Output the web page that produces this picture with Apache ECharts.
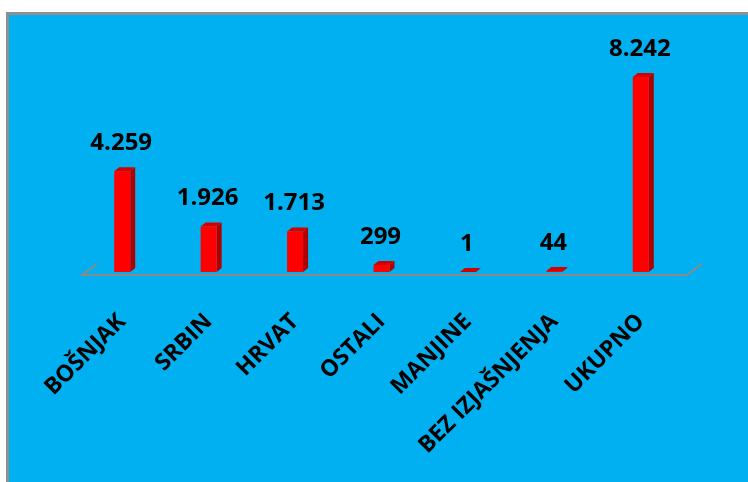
<!DOCTYPE html>
<html>
<head>
<meta charset="utf-8">
<script src="https://cdn.jsdelivr.net/npm/echarts@6/dist/echarts.min.js"></script>
<style>
  html, body { margin: 0; padding: 0; background: #ffffff; overflow: hidden; }
  #frame { position: absolute; left: 6px; top: 12px; width: 760px; height: 500px;
           background: #00B0F0; border-left: 3px solid #8f8f8f; border-top: 3px solid #8f8f8f; }
  #chart { position: absolute; left: 0; top: 0; width: 748px; height: 482px; }
</style>
</head>
<body>
<div id="frame"></div>
<div id="chart"></div>
<script>
const categories = ['BOŠNJAK', 'SRBIN', 'HRVAT', 'OSTALI', 'MANJINE', 'BEZ IZJAŠNJENJA', 'UKUPNO'];
const values = [4259, 1926, 1713, 299, 1, 44, 8242];

const FONT = '"Open Sans", "DejaVu Sans", sans-serif';
function fmt(v) {
  return String(v).replace(/\B(?=(\d{3})+(?!\d))/g, '.');
}

const chart = echarts.init(document.getElementById('chart'), null, { renderer: 'canvas' });

function renderBar(params, api) {
  const idx = api.value(0);
  const val = api.value(1);
  const top = api.coord([idx, val]);
  const base = api.coord([idx, 0]);
  const w = 16, dx = 5, dy = 4;
  const xl = top[0] - w / 2, xr = top[0] + w / 2;
  const yt = top[1], yb = base[1];
  return {
    type: 'group',
    children: [
      { type: 'polygon', shape: { points: [[xr, yt], [xr + dx, yt - dy], [xr + dx, yb - dy], [xr, yb]] },
        style: { fill: '#B00000' } },
      { type: 'polygon', shape: { points: [[xl, yt], [xl + dx, yt - dy], [xr + dx, yt - dy], [xr, yt]] },
        style: { fill: '#D40000' } },
      { type: 'rect', shape: { x: xl, y: yt, width: w, height: Math.max(yb - yt, 0) },
        style: { fill: '#FF0000' } },
      { type: 'text', x: top[0] - 1, y: yt - 28,
        style: { text: fmt(val), fill: '#000000', font: 'bold 24px ' + FONT,
                 textAlign: 'center', textVerticalAlign: 'middle' } }
    ]
  };
}

function renderFloor(params, api) {
  const p0 = api.coord([0, 0]);
  const pn = api.coord([categories.length - 1, 0]);
  const band = api.size([1, 0])[0];
  const y = p0[1] + 3;
  const xL = p0[0] - band / 2 + 3;
  const xR = pn[0] + band / 2 + 3;
  return {
    type: 'polyline',
    shape: { points: [[xL + 15, y - 11], [xL, y], [xR, y], [xR + 15, y - 11]] },
    style: { stroke: '#8a8a8a', lineWidth: 2, fill: null }
  };
}

chart.setOption({
  animation: false,
  backgroundColor: 'transparent',
  grid: { left: 79, right: 64, top: 59, bottom: 210 },
  xAxis: {
    type: 'category',
    data: categories,
    axisLine: { show: false },
    axisTick: { show: false },
    axisLabel: {
      rotate: 45, margin: 46, interval: 0,
      color: '#000000', fontWeight: 'bold', fontSize: 23, fontFamily: FONT
    }
  },
  yAxis: {
    type: 'value', min: 0, max: 9000,
    show: false, splitLine: { show: false }
  },
  series: [
    { type: 'custom', renderItem: renderFloor, data: [[0, 0]], z: 1, silent: true },
    { type: 'custom', renderItem: renderBar,
      data: values.map((v, i) => [i, v]), encode: { x: 0, y: 1 }, z: 2 }
  ]
});
</script>
</body>
</html>
